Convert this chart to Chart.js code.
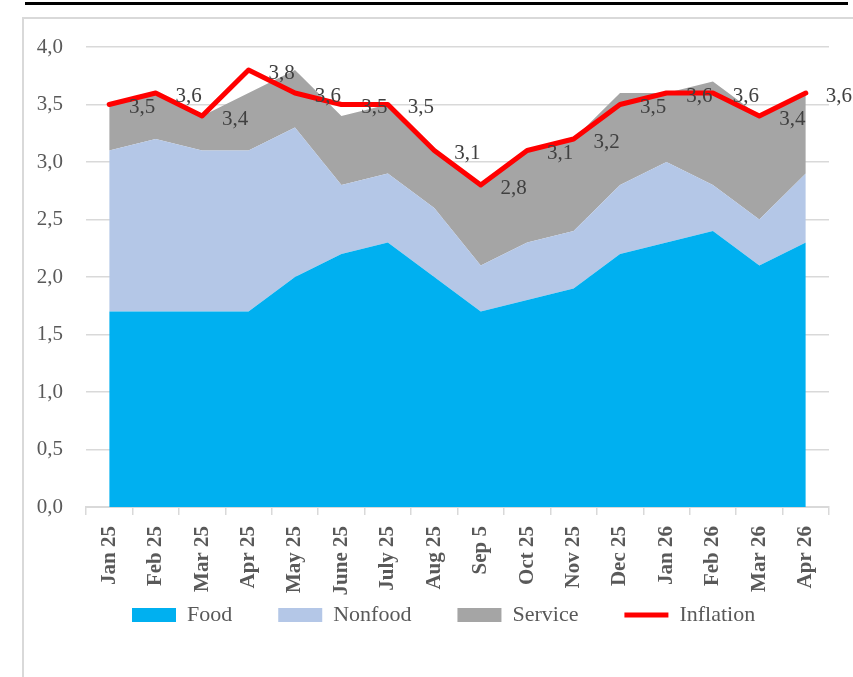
<!DOCTYPE html>
<html>
<head>
<meta charset="utf-8">
<script src="https://cdn.jsdelivr.net/npm/chart.js@4/dist/chart.umd.min.js"></script>
<style>
  html, body { margin: 0; padding: 0; background: #fff; }
  #wrap { position: relative; width: 853px; height: 677px; overflow: hidden; }
  #topline { position: absolute; left: 25px; top: 2px; width: 823px; height: 3px; background: #000; }
  #frame { position: absolute; left: 22px; top: 17px; width: 840px; height: 670px;
           border-top: 2px solid #d9d9d9; border-left: 2px solid #d9d9d9; }
  canvas { position: absolute; left: 0; top: 0; }
</style>
</head>
<body>
<div id="wrap">
  <div id="topline"></div>
  <div id="frame"></div>
  <canvas id="chart" width="853" height="677"></canvas>
</div>
<script>
// ===== DATA =====
const months    = ['Jan 25', 'Feb 25', 'Mar 25', 'Apr 25', 'May 25', 'June 25', 'July 25', 'Aug 25',
                   'Sep 5', 'Oct 25', 'Nov 25', 'Dec 25', 'Jan 26', 'Feb 26', 'Mar 26', 'Apr 26'];
const food      = [1.7, 1.7, 1.7, 1.7, 2.0, 2.2, 2.3, 2.0, 1.7, 1.8, 1.9, 2.2, 2.3, 2.4, 2.1, 2.3];
const nonfood   = [1.4, 1.5, 1.4, 1.4, 1.3, 0.6, 0.6, 0.6, 0.4, 0.5, 0.5, 0.6, 0.7, 0.4, 0.4, 0.6];
const service   = [0.4, 0.4, 0.3, 0.5, 0.5, 0.6, 0.6, 0.5, 0.7, 0.8, 0.8, 0.8, 0.6, 0.9, 0.9, 0.7];
const inflation = [3.5, 3.6, 3.4, 3.8, 3.6, 3.5, 3.5, 3.1, 2.8, 3.1, 3.2, 3.5, 3.6, 3.6, 3.4, 3.6];

const FONT = 'Liberation Serif';
const fmt = v => Number(v).toFixed(1).replace('.', ',');

// value labels to the right of each inflation point
const valueLabels = {
  id: 'valueLabels',
  afterLayout(chart) {
    // let the rotated month labels run under the legend instead of being clipped
    const x = chart.scales.x;
    x.bottom = x.top + 95;
  },
  afterDatasetsDraw(chart) {
    const meta = chart.getDatasetMeta(3);
    const ctx = chart.ctx;
    ctx.save();
    ctx.font = '21px "' + FONT + '"';
    ctx.fillStyle = '#404040';
    ctx.textAlign = 'center';
    ctx.textBaseline = 'middle';
    meta.data.forEach((pt, i) => {
      ctx.fillText(fmt(inflation[i]), pt.x + 33, pt.y + 3);
    });
    ctx.restore();
  }
};

const area = (label, data, color, fill) => ({
  label, data, fill,
  backgroundColor: color,
  borderColor: 'transparent',
  borderWidth: 0,
  pointRadius: 0,
  pointStyle: 'rect',
  tension: 0,
  stack: 'parts',
  order: 1
});

new Chart(document.getElementById('chart'), {
  type: 'line',
  data: {
    labels: months,
    datasets: [
      area('Food', food, '#00B0F0', 'origin'),
      area('Nonfood', nonfood, '#B4C7E7', '-1'),
      area('Service', service, '#A5A5A5', '-1'),
      {
        label: 'Inflation', data: inflation,
        borderColor: '#FF0000', backgroundColor: '#FF0000',
        borderWidth: 5, borderCapStyle: 'round', borderJoinStyle: 'round',
        pointRadius: 0, pointStyle: 'line', tension: 0, fill: false,
        stack: 'infl', order: 0
      }
    ]
  },
  options: {
    responsive: false,
    animation: false,
    layout: { padding: { left: 0, right: 24, top: 47, bottom: 41 } },
    plugins: {
      tooltip: { enabled: false },
      legend: {
        position: 'bottom',
        fullSize: false,
        align: 'start',
        labels: {
          usePointStyle: true,
          pointStyleWidth: 44,
          boxHeight: 14,
          padding: 46,
          color: '#595959',
          font: { family: FONT, size: 22 },
          sort: (a, b) => a.datasetIndex - b.datasetIndex
        }
      }
    },
    scales: {
      x: {
        offset: true,
        grid: { display: true, drawOnChartArea: false, offset: true, tickLength: 8, color: '#d9d9d9', lineWidth: 1.5 },
        border: { display: true, color: '#d9d9d9', width: 2 },
        ticks: {
          autoSkip: false, minRotation: 90, maxRotation: 90, padding: 11,
          color: '#595959', font: { family: FONT, size: 21, weight: 'bold' }
        },
        afterFit: s => { s.height = 51; }
      },
      y: {
        stacked: true,
        min: 0, max: 4,
        grid: { color: '#d9d9d9', lineWidth: 1.5, drawTicks: false },
        border: { display: false },
        ticks: {
          stepSize: 0.5, padding: 23, color: '#595959',
          font: { family: FONT, size: 21 },
          callback: v => fmt(v)
        },
        afterFit: s => { s.width = 86; }
      }
    }
  },
  plugins: [valueLabels]
});
</script>
</body>
</html>
